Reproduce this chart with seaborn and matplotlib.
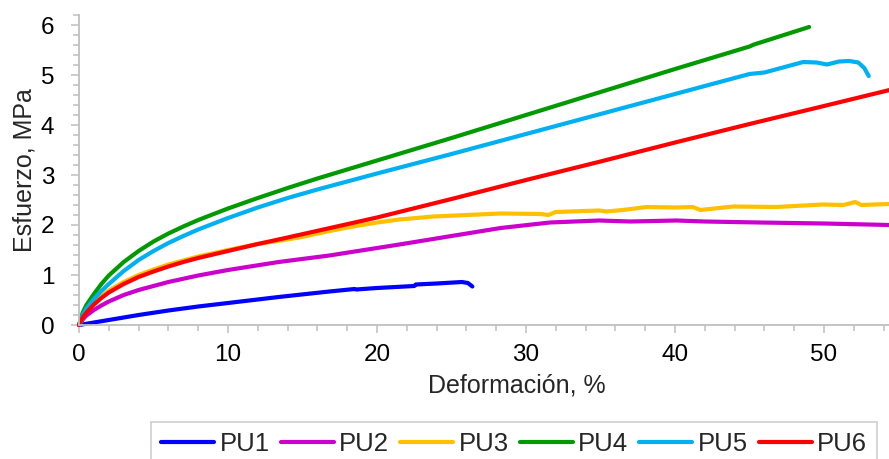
import matplotlib
matplotlib.use('Agg')
import matplotlib.pyplot as plt
from matplotlib.ticker import MultipleLocator
import pandas as pd
import seaborn as sns

# Curves (strain %, stress MPa)
pu1_x = [0, 1, 2, 4, 6, 8, 10, 13.4, 16.8, 18.5, 18.6, 20, 22.5, 22.6, 24, 25.7, 26.1, 26.4]
pu1_y = [0, 0.05, 0.1, 0.2, 0.29, 0.37, 0.44, 0.56, 0.67, 0.72, 0.71, 0.74, 0.78, 0.81, 0.83, 0.86, 0.84, 0.77]

pu2_x = [0, 0.25, 0.5, 1, 1.5, 2, 3, 4, 6, 8, 10, 13.4, 16.8, 21.5, 25, 28.3, 31.6, 34.9, 37,
         40.1, 42, 45.7, 50, 54.4]
pu2_y = [0, 0.11, 0.19, 0.3, 0.39, 0.47, 0.6, 0.7, 0.86, 0.99, 1.1, 1.26, 1.39, 1.61, 1.78, 1.94,
         2.05, 2.09, 2.07, 2.09, 2.07, 2.05, 2.03, 2.0]

pu3_x = [0, 0.25, 0.5, 1, 1.5, 2, 3, 4, 5, 6, 7, 8, 10, 12, 14.8, 16.5, 18.2, 20, 21.5, 23.8, 26.8,
         28.3, 31.0, 31.5, 32.0, 34.9, 35.4, 36.5, 38.1, 40, 41.2, 41.7, 43.9, 46.8, 49.9, 51.3,
         52.1, 52.5, 54.4]
pu3_y = [0, 0.17, 0.28, 0.45, 0.58, 0.69, 0.86, 1.0, 1.11, 1.21, 1.29, 1.37, 1.5, 1.62, 1.75, 1.86,
         1.96, 2.05, 2.11, 2.17, 2.21, 2.23, 2.22, 2.2, 2.26, 2.29, 2.27, 2.3, 2.36, 2.35, 2.36, 2.3,
         2.37, 2.36, 2.41, 2.4, 2.46, 2.4, 2.42]

pu4_x = [0, 0.25, 0.5, 1, 1.5, 2, 3, 4, 5, 6, 7, 8, 10, 12, 14, 16, 18, 20, 25, 30, 35, 40, 45,
         45.3, 49]
pu4_y = [0, 0.25, 0.4, 0.62, 0.82, 0.99, 1.26, 1.48, 1.67, 1.83, 1.97, 2.1, 2.33, 2.54, 2.74, 2.93,
         3.11, 3.29, 3.74, 4.2, 4.66, 5.12, 5.57, 5.61, 5.96]

pu5_x = [0, 0.25, 0.5, 1, 1.5, 2, 3, 4, 5, 6, 7, 8, 10, 12, 14, 16, 18, 20, 25, 30, 35, 40, 45,
         46, 48.6, 49.5, 50.2, 51, 51.7, 52.3, 52.7, 53.0]
pu5_y = [0, 0.2, 0.33, 0.52, 0.68, 0.82, 1.08, 1.3, 1.48, 1.64, 1.78, 1.91, 2.14, 2.35, 2.54, 2.71,
         2.87, 3.03, 3.42, 3.82, 4.22, 4.62, 5.02, 5.05, 5.26, 5.25, 5.21, 5.27, 5.28, 5.25, 5.14, 4.98]

pu6_x = [0, 0.25, 0.5, 1, 1.5, 2, 3, 4, 5, 6, 7, 8, 10, 12, 14, 17, 20, 25, 30, 35, 40, 45, 50, 54.4]
pu6_y = [0, 0.15, 0.25, 0.41, 0.54, 0.65, 0.82, 0.96, 1.07, 1.17, 1.26, 1.34, 1.48, 1.62, 1.75,
         1.95, 2.15, 2.52, 2.9, 3.27, 3.65, 4.02, 4.38, 4.7]

names = ['PU1', 'PU2', 'PU3', 'PU4', 'PU5', 'PU6']
colors = ['#0000FF', '#CC00CC', '#FFC000', '#009A00', '#00B0F0', '#FF0000']
xs = [pu1_x, pu2_x, pu3_x, pu4_x, pu5_x, pu6_x]
ys = [pu1_y, pu2_y, pu3_y, pu4_y, pu5_y, pu6_y]

sns.set_style('ticks')
plt.rcParams['font.family'] = ['Liberation Sans', 'DejaVu Sans']

fig = plt.figure(figsize=(8.89, 4.59), dpi=100)
ax = fig.add_axes([79 / 889, 1 - 325 / 459, 810 / 889, 310 / 459])

for name, col, x, y in zip(names, colors, xs, ys):
    df = pd.DataFrame({'x': x, 'y': y})
    sns.lineplot(data=df, x='x', y='y', sort=False, estimator=None, color=col, lw=2.6,
                 label=name, ax=ax, clip_on=False, solid_capstyle='round',
                 solid_joinstyle='round')

ax.set_xlim(0, 54.36)
ax.set_ylim(0, 6.2)
ax.xaxis.set_major_locator(MultipleLocator(10))
ax.xaxis.set_minor_locator(MultipleLocator(2))
ax.yaxis.set_major_locator(MultipleLocator(1))
ax.yaxis.set_minor_locator(MultipleLocator(0.2))

grey = '#BFBFBF'
for side in ['top', 'right']:
    ax.spines[side].set_visible(False)
for side in ['left', 'bottom']:
    ax.spines[side].set_color(grey)
    ax.spines[side].set_linewidth(1.3)

ax.tick_params(which='major', length=5.8, width=1.1, color=grey, labelsize=17.5, labelcolor='black')
ax.tick_params(which='minor', length=4.3, width=1.1, color=grey)
ax.tick_params(axis='y', which='major', pad=12)
ax.tick_params(axis='x', which='major', pad=8)

ax.set_xlabel('Deformación, %', fontsize=18)
ax.set_ylabel('Esfuerzo, MPa', fontsize=18)
ax.xaxis.set_label_coords(0.54, -0.155)
ax.yaxis.set_label_coords(-0.053, 0.5)

ax.get_legend().remove()
handles, labels = ax.get_legend_handles_labels()
for h in handles:
    h.set_linewidth(3)
leg = fig.legend(handles, labels, ncol=6, loc='upper left',
                 bbox_to_anchor=(151 / 889, 1 - 422 / 459), fontsize=18.5,
                 frameon=True, fancybox=False, handlelength=2.07, handletextpad=0.2,
                 columnspacing=0.43, borderpad=0.4, borderaxespad=0)
leg.get_frame().set_edgecolor(grey)
leg.get_frame().set_linewidth(1.1)

fig.savefig('out.png', dpi=100)
